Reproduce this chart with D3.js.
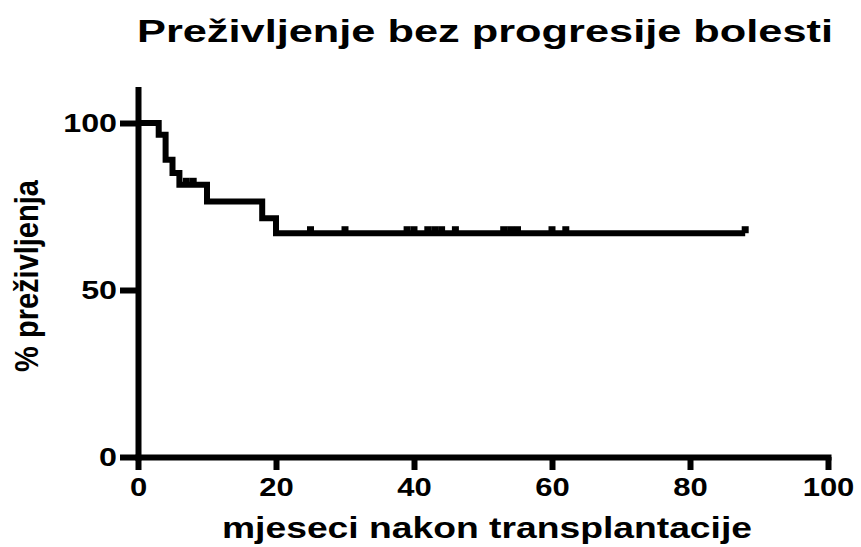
<!DOCTYPE html>
<html>
<head>
<meta charset="utf-8">
<script src="https://cdnjs.cloudflare.com/ajax/libs/d3/7.8.5/d3.min.js"></script>
<style>
  body { margin: 0; background: #fff; }
  svg { display: block; }
  text { font-family: "Liberation Sans", Arial, sans-serif; font-weight: bold; fill: #000; }
</style>
</head>
<body>
<div id="chart"></div>
<script>
// Kaplan-Meier steps (months, % survival after the drop)
var eventMonths = [3, 4, 5, 6, 10, 18, 20];
var eventLevels = [96.5, 89, 85, 81.5, 76.5, 71.5, 67];
var censoredMonths = [7, 8, 25, 30, 39, 40, 42, 43, 44, 46, 53, 54, 55, 60, 62, 88];
var lastMonth = 88;
var xTicks = [0, 20, 40, 60, 80, 100];
var yTicks = [0, 50, 100];

var titleText = "Preživljenje bez progresije bolesti";
var xLabel = "mjeseci nakon transplantacije";
var yLabel = "% preživljenja";

var W = 861, H = 547;
var margin = { left: 138, right: 33, top: 90, bottom: 90 };
var stretch = 1.24; // the source picture is wider than normal glyphs

var svg = d3.select("#chart").append("svg")
    .attr("width", W)
    .attr("height", H);

var x = d3.scaleLinear().domain([0, 100]).range([margin.left, W - margin.right]);
var y = d3.scaleLinear().domain([0, 110]).range([457, 457 - 110 * 3.34]);

// build the survival table
var steps = [{ t: 0, s: 100 }];
eventMonths.forEach(function (t, i) { steps.push({ t: t, s: eventLevels[i] }); });
steps.push({ t: lastMonth, s: eventLevels[eventLevels.length - 1] });

function levelAt(t) {
    var s = 100;
    steps.forEach(function (d) { if (d.t <= t) s = d.s; });
    return s;
}

function widen(sel, k) {
    sel.each(function () {
        var len = this.getComputedTextLength();
        d3.select(this)
            .attr("textLength", len * k)
            .attr("lengthAdjust", "spacingAndGlyphs");
    });
}

// axes
var xAxis = d3.axisBottom(x).tickValues(xTicks).tickSize(13).tickSizeOuter(0).tickFormat(d3.format("d"));
var yAxis = d3.axisLeft(y).tickValues(yTicks).tickSize(18).tickSizeOuter(0).tickFormat(d3.format("d"));

var gx = svg.append("g")
    .attr("transform", "translate(0," + y(0) + ")")
    .call(xAxis);

var gy = svg.append("g")
    .attr("transform", "translate(" + x(0) + ",0)")
    .call(yAxis);

[gx, gy].forEach(function (g) {
    g.select(".domain")
        .attr("stroke", "#000")
        .attr("stroke-width", 6)
        .attr("stroke-linecap", "square");
    g.selectAll(".tick line")
        .attr("stroke", "#000")
        .attr("stroke-width", 6);
});

gx.selectAll(".tick text")
    .attr("y", 21)
    .attr("font-size", 25)
    .attr("font-family", null)
    .call(widen, stretch);

gy.selectAll(".tick text")
    .attr("x", -21)
    .attr("font-size", 26)
    .attr("font-family", null)
    .call(widen, stretch);

// survival curve
var line = d3.line()
    .x(function (d) { return x(d.t); })
    .y(function (d) { return y(d.s); })
    .curve(d3.curveStepAfter);

svg.append("path")
    .datum(steps)
    .attr("fill", "none")
    .attr("stroke", "#000")
    .attr("stroke-width", 6)
    .attr("stroke-linejoin", "miter")
    .attr("d", line);

// censor marks
svg.selectAll(".cens")
    .data(censoredMonths)
    .enter()
    .append("line")
    .attr("class", "cens")
    .attr("x1", function (d) { return x(d); })
    .attr("x2", function (d) { return x(d); })
    .attr("y1", function (d) { return y(levelAt(d)); })
    .attr("y2", function (d) { return y(levelAt(d)) - 7; })
    .attr("stroke", "#000")
    .attr("stroke-width", 7);

// title and axis labels
svg.append("text")
    .attr("x", 485)
    .attr("y", 42)
    .attr("text-anchor", "middle")
    .attr("font-size", 32)
    .text(titleText)
    .attr("textLength", 696)
    .attr("lengthAdjust", "spacingAndGlyphs");

svg.append("text")
    .attr("x", 487)
    .attr("y", 538)
    .attr("text-anchor", "middle")
    .attr("font-size", 29)
    .text(xLabel)
    .attr("textLength", 530)
    .attr("lengthAdjust", "spacingAndGlyphs");

svg.append("text")
    .attr("transform", "translate(38,276) rotate(-90) scale(1,1.15)")
    .attr("text-anchor", "middle")
    .attr("font-size", 29)
    .text(yLabel);
</script>
</body>
</html>
